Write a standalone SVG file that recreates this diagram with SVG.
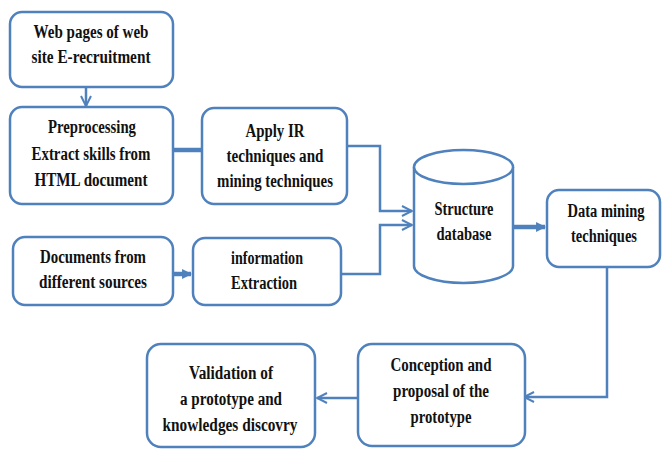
<svg xmlns="http://www.w3.org/2000/svg" width="662" height="450" viewBox="0 0 662 450">
<defs>
<style>
.box{fill:#fff;stroke:#4f81bd;stroke-width:2.5}
.lbl{font-family:"Liberation Serif","Times New Roman",serif;font-weight:bold;font-size:18px;fill:#111;text-anchor:middle}
.ln{fill:none;stroke:#4f81bd;stroke-width:2.5}
.thick{fill:none;stroke:#4f81bd;stroke-width:4.5}
</style>
<marker id="open" viewBox="0 0 10 10" refX="9" refY="5" markerWidth="5" markerHeight="5" orient="auto" markerUnits="strokeWidth">
<path d="M1,1 L9,5 L1,9" fill="none" stroke="#4f81bd" stroke-width="1.6"/>
</marker>
<marker id="solid" viewBox="0 0 10 10" refX="9" refY="5" markerWidth="2.2" markerHeight="2.2" orient="auto" markerUnits="strokeWidth">
<path d="M0,0 L10,5 L0,10 z" fill="#4f81bd"/>
</marker>
</defs>
<rect width="662" height="450" fill="#fff"/>

<g id="connectors">
<line class="ln" x1="86" y1="88" x2="86" y2="106" marker-end="url(#open)"/>
<line class="thick" x1="174" y1="150" x2="201" y2="150"/>
<polyline class="ln" points="347,146 380,146 380,211 412,211" marker-end="url(#open)"/>
<line class="thick" x1="174" y1="274" x2="191" y2="274" marker-end="url(#solid)"/>
<polyline class="ln" points="341,274 380,274 380,225 412,225" marker-end="url(#open)"/>
<line class="thick" x1="514" y1="227" x2="545" y2="227" marker-end="url(#solid)"/>
<polyline class="ln" points="607,268 607,397 524,397" marker-end="url(#open)"/>
<line class="ln" x1="358" y1="398" x2="317" y2="398" marker-end="url(#open)"/>
</g>

<g id="web-pages">
<rect class="box" x="10" y="12" width="163" height="75" rx="12"/>
<text class="lbl" x="91" y="38" textLength="115" lengthAdjust="spacingAndGlyphs">Web pages of web</text>
<text class="lbl" x="91" y="63" textLength="119" lengthAdjust="spacingAndGlyphs">site  E-recruitment</text>
</g>

<g id="preprocessing">
<rect class="box" x="10" y="107" width="163" height="97" rx="12"/>
<text class="lbl" x="92" y="133" textLength="88" lengthAdjust="spacingAndGlyphs">Preprocessing</text>
<text class="lbl" x="91" y="160" textLength="119" lengthAdjust="spacingAndGlyphs">Extract skills  from</text>
<text class="lbl" x="91" y="186" textLength="113" lengthAdjust="spacingAndGlyphs">HTML  document</text>
</g>

<g id="apply-ir">
<rect class="box" x="202" y="108" width="145" height="96" rx="12"/>
<text class="lbl" x="275" y="137" textLength="59" lengthAdjust="spacingAndGlyphs">Apply IR</text>
<text class="lbl" x="275" y="162" textLength="97" lengthAdjust="spacingAndGlyphs">techniques and</text>
<text class="lbl" x="275" y="187" textLength="116" lengthAdjust="spacingAndGlyphs">mining techniques</text>
</g>

<g id="documents">
<rect class="box" x="13" y="237" width="160" height="68" rx="12"/>
<text class="lbl" x="93" y="263" textLength="106" lengthAdjust="spacingAndGlyphs">Documents from</text>
<text class="lbl" x="93" y="288" textLength="108" lengthAdjust="spacingAndGlyphs">different  sources</text>
</g>

<g id="information-extraction">
<rect class="box" x="193" y="238" width="148" height="67" rx="12"/>
<text class="lbl" x="267" y="264" textLength="72" lengthAdjust="spacingAndGlyphs">information</text>
<text class="lbl" x="264" y="289" textLength="66" lengthAdjust="spacingAndGlyphs">Extraction</text>
</g>

<g id="structure-database">
<path class="box" d="M414,167 L414,266 A49.5,17 0 0 0 513,266 L513,167"/>
<ellipse class="box" cx="463.5" cy="167" rx="49.5" ry="17"/>
<text class="lbl" x="464" y="215" textLength="59" lengthAdjust="spacingAndGlyphs">Structure</text>
<text class="lbl" x="464" y="240" textLength="55" lengthAdjust="spacingAndGlyphs">database</text>
</g>

<g id="data-mining">
<rect class="box" x="547" y="190" width="113" height="77" rx="12"/>
<text class="lbl" x="606" y="217" textLength="77" lengthAdjust="spacingAndGlyphs">Data mining</text>
<text class="lbl" x="604" y="242" textLength="66" lengthAdjust="spacingAndGlyphs">techniques</text>
</g>

<g id="conception">
<rect class="box" x="358" y="344" width="167" height="102" rx="14"/>
<text class="lbl" x="441" y="371" textLength="101" lengthAdjust="spacingAndGlyphs">Conception  and</text>
<text class="lbl" x="441" y="397" textLength="96" lengthAdjust="spacingAndGlyphs">proposal  of the</text>
<text class="lbl" x="441" y="423" textLength="61" lengthAdjust="spacingAndGlyphs">prototype</text>
</g>

<g id="validation">
<rect class="box" x="147" y="344" width="168" height="103" rx="14"/>
<text class="lbl" x="231" y="379" textLength="84" lengthAdjust="spacingAndGlyphs">Validation  of</text>
<text class="lbl" x="231" y="405" textLength="102" lengthAdjust="spacingAndGlyphs">a prototype  and</text>
<text class="lbl" x="230" y="431" textLength="135" lengthAdjust="spacingAndGlyphs">knowledges  discovry</text>
</g>
</svg>
